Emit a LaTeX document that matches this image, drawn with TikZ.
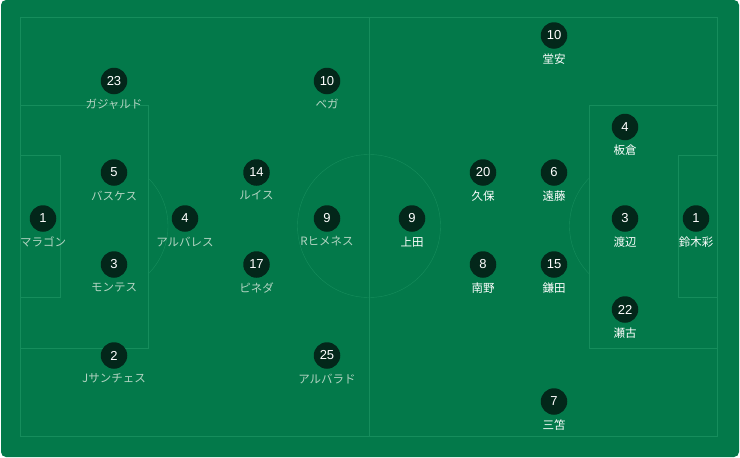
\documentclass[tikz,border=0pt]{standalone}
\usepackage{fontspec}
\setmainfont{Liberation Sans}
\newfontfamily\jpfont{Noto Sans CJK JP}
\usetikzlibrary{positioning}
\definecolor{pitch}{HTML}{03794A}
\definecolor{pitchline}{HTML}{168D5C}
\definecolor{chip}{HTML}{03271A}
\definecolor{mexname}{HTML}{B3D4C2}

\tikzset{
  player/.style={circle, fill=chip, minimum size=26.5pt, inner sep=0pt, text=white, font=\fontsize{13}{13}\selectfont},
  pname/.style={inner sep=0pt, font=\jpfont\fontsize{11.5}{12}\selectfont},
  mex/.style={pname, text=mexname},
  jpn/.style={pname, text=white},
}

\begin{document}
\begin{tikzpicture}[x=1pt, y=-1pt, node distance=4.5pt]
      \useasboundingbox (0,0) rectangle (740,458);
      \fill[white] (0,0) rectangle (740,458);
      \fill[pitch, rounded corners=5pt] (1,0) rectangle (739,457);

      \draw[pitchline] (20.5,17.5) rectangle (717,436);
      \draw[pitchline] (369,17.5) -- (369,436);
      \draw[pitchline] (369,226) circle (71.5pt);
      \draw[pitchline] (20.5,105) rectangle (148,348);
      \draw[pitchline] (20.5,155) rectangle (60,297);
      \draw[pitchline] (589.5,105) rectangle (717,348);
      \draw[pitchline] (678,155) rectangle (717,297);
      \begin{scope}
        \clip (148,0) rectangle (369,458);
        \draw[pitchline] (100,226) circle (68pt);
      \end{scope}
      \begin{scope}
        \clip (369,0) rectangle (589.5,458);
        \draw[pitchline] (637.5,226) circle (68pt);
      \end{scope}

      \node[player] (m1) at (43,218.5) {1};
      \node[mex, below=of m1] (m1n) {マラゴン};
      \node[player] (m23) at (114,81) {23};
      \node[mex, below=of m23] (m23n) {ガジャルド};
      \node[player] (m5) at (114,172.5) {5};
      \node[mex, below=of m5] (m5n) {バスケス};
      \node[player] (m3) at (114,264.5) {3};
      \node[mex, below=of m3] (m3n) {モンテス};
      \node[player] (m2) at (114,355.5) {2};
      \node[mex, below=of m2] (m2n) {Jサンチェス};
      \node[player] (m4) at (185,218.5) {4};
      \node[mex, below=of m4] (m4n) {アルバレス};
      \node[player] (m14) at (256.5,172.5) {14};
      \node[mex, below=of m14] (m14n) {ルイス};
      \node[player] (m17) at (256.5,264.5) {17};
      \node[mex, below=of m17] (m17n) {ピネダ};
      \node[player] (m10) at (327,81) {10};
      \node[mex, below=of m10] (m10n) {ベガ};
      \node[player] (m9) at (327,218.5) {9};
      \node[mex, below=of m9] (m9n) {Rヒメネス};
      \node[player] (m25) at (327,355.5) {25};
      \node[mex, below=of m25] (m25n) {アルバラド};

      \node[player] (j9) at (412,218.5) {9};
      \node[jpn, below=of j9] (j9n) {上田};
      \node[player] (j20) at (483,172.5) {20};
      \node[jpn, below=of j20] (j20n) {久保};
      \node[player] (j8) at (483,264.5) {8};
      \node[jpn, below=of j8] (j8n) {南野};
      \node[player] (j10) at (554,35.5) {10};
      \node[jpn, below=of j10] (j10n) {堂安};
      \node[player] (j6) at (554,172.5) {6};
      \node[jpn, below=of j6] (j6n) {遠藤};
      \node[player] (j15) at (554,264.5) {15};
      \node[jpn, below=of j15] (j15n) {鎌田};
      \node[player] (j7) at (554,401.5) {7};
      \node[jpn, below=of j7] (j7n) {三笘};
      \node[player] (j4) at (625,127) {4};
      \node[jpn, below=of j4] (j4n) {板倉};
      \node[player] (j3) at (625,218.5) {3};
      \node[jpn, below=of j3] (j3n) {渡辺};
      \node[player] (j22) at (625,309.5) {22};
      \node[jpn, below=of j22] (j22n) {瀬古};
      \node[player] (j1) at (696,218.5) {1};
      \node[jpn, below=of j1] (j1n) {鈴木彩};
\end{tikzpicture}
\end{document}
